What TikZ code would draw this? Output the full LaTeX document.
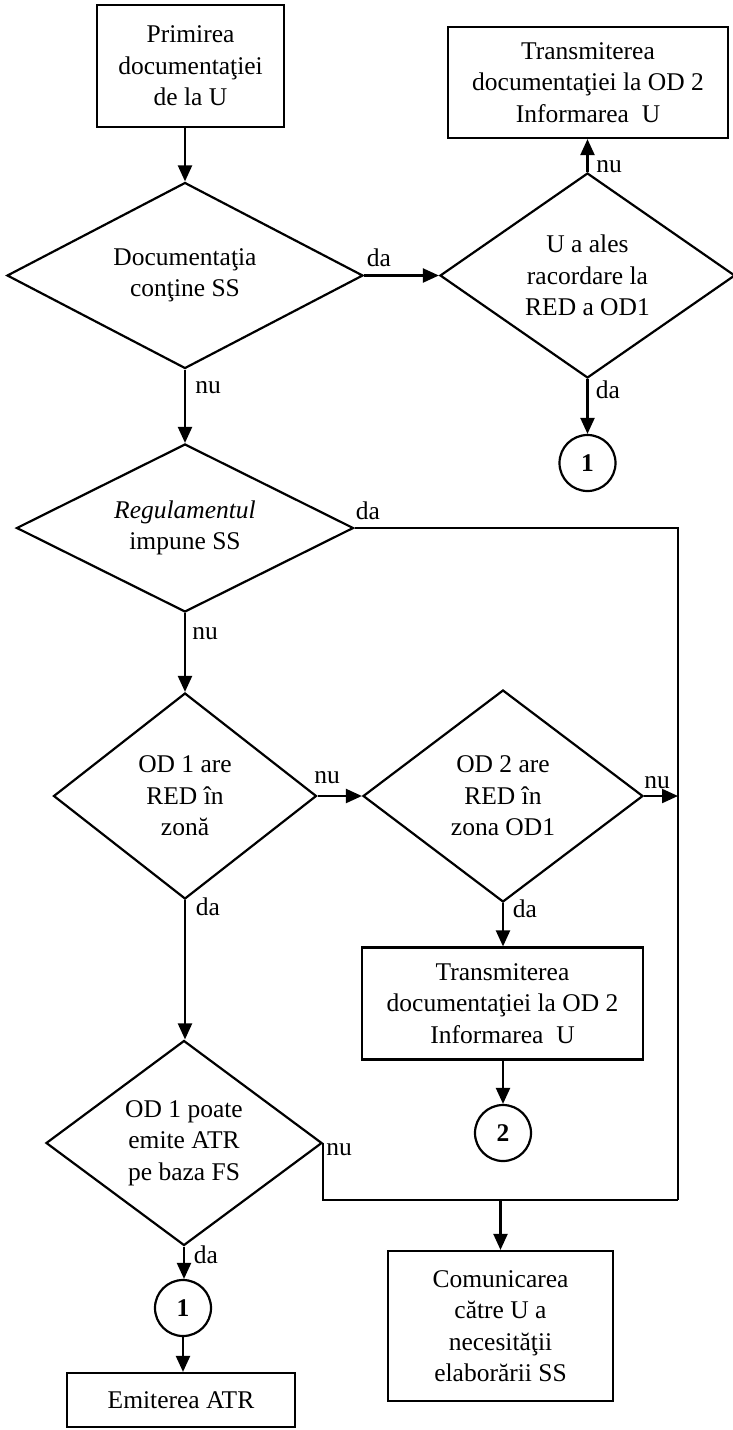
\documentclass[tikz,border=0pt]{standalone}
\usepackage{fontspec}
\setmainfont{Liberation Serif}
\usetikzlibrary{shapes.geometric,arrows.meta}
\begin{document}
\begin{tikzpicture}[x=1pt,y=-1pt,
  every node/.style={font=\fontsize{25.5}{31.5}\selectfont},
  line/.style={line width=2.2pt},
  arr/.style={line width=2.2pt,-{Triangle[length=16pt,width=14pt]}},
  proc/.style={draw,line width=2.2pt,rectangle,align=center,inner sep=0pt},
  dec/.style={draw,line width=2.2pt,diamond,align=center,inner sep=0pt},
  conn/.style={draw,line width=2.2pt,circle,minimum size=56pt,inner sep=0pt,font=\fontsize{25.5}{31.5}\selectfont\bfseries},
  lbl/.style={inner sep=0pt}]
\useasboundingbox (0,0) rectangle (733,1430);

% boxes
\node[proc,minimum width=187pt,minimum height=122pt] (B1) at (190.5,66) {Primirea\\documenta\c{t}iei\\de la U};
\node[proc,minimum width=280pt,minimum height=111pt] (BTR) at (588,82.5) {Transmiterea\\documenta\c{t}iei la OD 2\\Informarea\ \ U};
\node[proc,minimum width=281pt,minimum height=112pt] (BT2) at (502.5,1003.5) {Transmiterea\\documenta\c{t}iei la OD 2\\Informarea\ \ U};
\node[proc,minimum width=225pt,minimum height=150pt] (BC) at (500.5,1326) {Comunicarea\\către U a\\necesită\c{t}ii\\elaborării SS};
\node[proc,minimum width=228pt,minimum height=54pt] (BE) at (181,1400) {Emiterea ATR};

% decisions
\node[dec,minimum width=356pt,minimum height=186pt,aspect=1.91] (D1) at (185,275.5) {Documenta\c{t}ia\\con\c{t}ine SS};
\node[dec,minimum width=295pt,minimum height=205pt,aspect=1.44] (D6) at (587.5,275.5) {U a ales\\racordare la\\RED a OD1};
\node[dec,minimum width=337pt,minimum height=168pt,aspect=2.0] (D2) at (185,528) {\textit{Regulamentul}\\impune SS};
\node[dec,minimum width=263pt,minimum height=206pt,aspect=1.28] (D3) at (185,796) {OD 1 are\\RED în\\zonă};
\node[dec,minimum width=280pt,minimum height=212pt,aspect=1.32] (D4) at (503,796) {OD 2 are\\RED în\\zona OD1};
\node[dec,minimum width=276pt,minimum height=205pt,aspect=1.35] (D5) at (184,1143) {OD 1 poate\\emite ATR\\pe baza FS};

% connectors (circles)
\node[conn] (C1a) at (587.5,463) {1};
\node[conn] (C2) at (503,1133) {2};
\node[conn] (C1b) at (183,1308) {1};

% junction
\coordinate (J) at (678,1200);

% arrows
\draw[arr] (B1.south -| D1.north) -- (D1.north);
\draw[arr] (D1.east) -- (D6.west);
\draw[arr] (D6.north) -- (BTR.south -| D6.north);
\draw[arr] (D6.south) -- (C1a.north);
\draw[arr] (D1.south) -- (D2.north);
\draw[arr] (D2.south) -- (D3.north);
\draw[arr] (D3.east) -- (D4.west);
\draw[arr] (D4.south) -- (BT2.north -| D4.south);
\draw[arr] (BT2.south -| C2.north) -- (C2.north);
\draw[arr] (D3.south) -- (D3.south |- D5.north);
\draw[arr] (D5.south) -- (D5.south |- C1b.north);
\draw[arr] (C1b.south) -- (BE.north -| C1b.south);
\draw[line] (D2.east) -| (J);
\draw[line] (D5.east) |- (J);
\draw[arr] (D4.east) -- (D4.east -| J);
\coordinate (JC) at (BC.north |- J);
\draw[arr] (JC) -- (BC.north);

% labels
\node[lbl] (l1) at (379,258) {da};
\node[lbl] (l2) at (208,388) {nu};
\node[lbl] (l3) at (609,167) {nu};
\node[lbl] (l4) at (608,390) {da};
\node[lbl] (l5) at (368,511) {da};
\node[lbl] (l6) at (205,634) {nu};
\node[lbl] (l7) at (327,778) {nu};
\node[lbl] (l8) at (208,907) {da};
\node[lbl] (l9) at (657,783) {nu};
\node[lbl] (l10) at (525,909) {da};
\node[lbl] (l11) at (339,1150) {nu};
\node[lbl] (l12) at (206,1255) {da};
\end{tikzpicture}
\end{document}
